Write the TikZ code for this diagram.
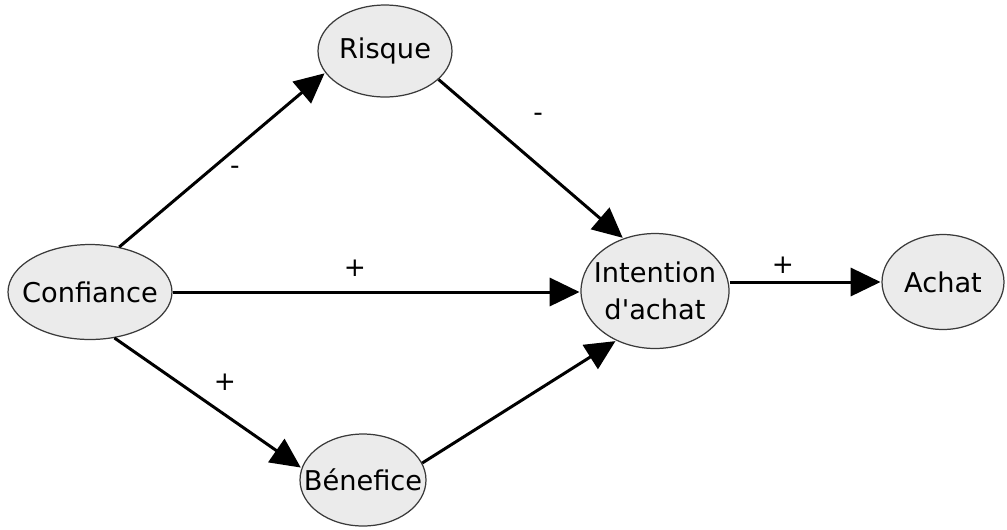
\documentclass[tikz,border=0pt]{standalone}
\usepackage{fontspec}
\setmainfont{DejaVu Sans}
\usepackage{tikz}
\usetikzlibrary{shapes.geometric,arrows.meta}
\definecolor{VarFill}{HTML}{EBEBEB}
\definecolor{VarLine}{HTML}{3A3A3A}
\tikzset{
  var/.style={ellipse,draw=VarLine,fill=VarFill,line width=0.7pt,
    inner sep=0pt,align=center,
    font=\fontsize{15.5}{21}\selectfont},
  link/.style={line width=1.7pt,draw=black,
    -{Triangle[length=17pt,width=16pt]},shorten >=0.5pt},
  sign/.style={font=\fontsize{15}{18}\selectfont,inner sep=0pt},
}
\begin{document}
\begin{tikzpicture}[x=0.02cm,y=-0.02cm]
  \useasboundingbox (0,0) rectangle (1007,529);
  \node[var,minimum width=3.28cm,minimum height=1.90cm] (conf) at (90,292) {\makebox[0pt]{Confiance}};
  \node[var,minimum width=2.68cm,minimum height=1.84cm] (risq) at (385,51) {\makebox[0pt]{Risque}};
  \node[var,minimum width=2.52cm,minimum height=1.84cm] (bene) at (363,480) {\makebox[0pt]{Bénefice}};
  \node[var,minimum width=2.96cm,minimum height=2.30cm] (inte) at (655,291) {\makebox[0pt]{Intention}\\\makebox[0pt]{d\textquotesingle achat}};
  \node[var,minimum width=2.44cm,minimum height=1.90cm] (acha) at (943,282) {\makebox[0pt]{Achat}};
  \draw[link] (conf.57) -- (risq.200);
  \draw[link] (risq.-28) -- (inte.121);
  \draw[link] (conf.east) -- (inte.west |- conf.east);
  \draw[link] (conf.-62) -- (bene.169);
  \draw[link] (bene.16) -- (inte.232);
  \draw[link] (inte.east |- acha.west) -- (acha.west);
  \node[sign] (s1) at (235,170) {-};
  \node[sign] (s2) at (538,117) {-};
  \node[sign] (s3) at (355,268) {+};
  \node[sign] (s4) at (225,382) {+};
  \node[sign] (s5) at (783,265) {+};
\end{tikzpicture}
\end{document}
